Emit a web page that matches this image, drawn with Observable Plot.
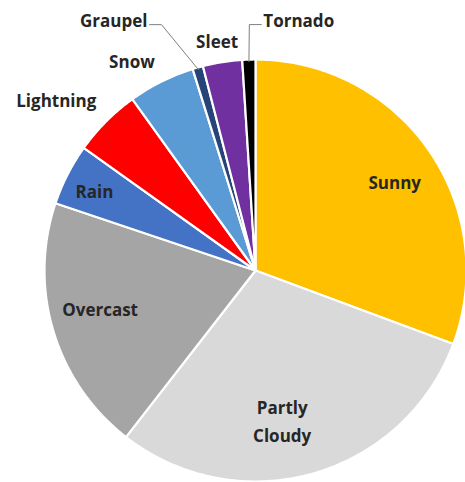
<!DOCTYPE html>
<html>
<head>
<meta charset="utf-8">
<script src="https://cdn.jsdelivr.net/npm/d3@7"></script>
<script src="https://cdn.jsdelivr.net/npm/@observablehq/plot@0.6"></script>
<style>
  html, body { margin: 0; padding: 0; background: #fff; }
  #chart svg { display: block; }
</style>
</head>
<body>
<div id="chart"></div>
<script>
// Share of days by weather type (percent), clockwise from 12 o'clock
const names  = ["Sunny", "Partly Cloudy", "Overcast", "Rain", "Lightning", "Snow", "Graupel", "Sleet", "Tornado"];
const shares = [30.6, 29.8, 19.6, 4.7, 5.2, 5.1, 0.8, 3.0, 1.0];
const labels = ["Sunny", "Partly\nCloudy", "Overcast", "Rain", "Lightning", "Snow", "Graupel", "Sleet", "Tornado"];
const colors = ["#FFC000", "#D9D9D9", "#A5A5A5", "#4472C4", "#FF0000", "#5B9BD5", "#264478", "#7030A0", "#000000"];

// Label placement: distance from centre (in radii) and a small turn (degrees) off the slice's mid-angle
const labelRadius = [0.78, 0.73, 0.76, 0.85, 1.24, 1.15, 1.29, 1.10, 1.185];
const labelTurn   = [2.6, 5.9, 2.5, -1, -4.5, -4.1, -7.5, -0.5, 3.6];
const labelAnchor = ["middle", "middle", "middle", "middle", "middle", "middle", "end", "middle", "start"];
const hasLeader   = [false, false, false, false, false, false, true, false, true];

const rad = Math.PI / 180;
const arcs = d3.pie().sort(null).startAngle(0).endAngle(2 * Math.PI)(shares);

// Polygon outline for each slice: centre -> arc -> centre
const slicePts = [];
arcs.forEach((a, i) => {
  const steps = Math.max(2, Math.ceil((a.endAngle - a.startAngle) / (0.5 * rad)));
  slicePts.push({name: names[i], x: 0, y: 0});
  for (let k = 0; k <= steps; k++) {
    const t = a.startAngle + (a.endAngle - a.startAngle) * k / steps;
    slicePts.push({name: names[i], x: Math.sin(t), y: -Math.cos(t)});
  }
  slicePts.push({name: names[i], x: 0, y: 0});
});

// Label anchor points
const labelRows = arcs.map((a, i) => {
  const mid = (a.startAngle + a.endAngle) / 2 + labelTurn[i] * rad;
  return {
    name: names[i], text: labels[i], anchor: labelAnchor[i],
    mid: (a.startAngle + a.endAngle) / 2,
    x: labelRadius[i] * Math.sin(mid),
    y: -labelRadius[i] * Math.cos(mid),
    leader: hasLeader[i]
  };
});

// Leader lines: slice edge -> elbow -> beside the label
const px = 1 / 211;
const leaderPts = [];
labelRows.filter(d => d.leader).forEach(d => {
  const side = d.anchor === "end" ? 1 : -1;
  const ex = d.x + side * 2 * px, ey = d.y + 4 * px;
  leaderPts.push({name: d.name, x: Math.sin(d.mid) * 0.99, y: -Math.cos(d.mid) * 0.99});
  leaderPts.push({name: d.name, x: ex + side * 12 * px, y: ey});
  leaderPts.push({name: d.name, x: ex, y: ey});
});

const textStyle = {
  x: "x", y: "y", text: "text", dy: -3,
  fontSize: 17, fontWeight: "bold", fontFamily: "'Open Sans', Lato, sans-serif",
  fill: "#262626", lineHeight: 1.65
};

const chart = Plot.plot({
  width: 465,
  height: 482,
  margin: 0,
  style: {background: "#fff"},
  x: {domain: [-1, 1], range: [44, 466], axis: null},
  y: {domain: [-1, 1], range: [59, 481], axis: null},
  color: {domain: names, range: colors},
  marks: [
    Plot.line(slicePts, {x: "x", y: "y", z: "name", fill: "name", stroke: "white", strokeWidth: 2.2, strokeLinejoin: "round", curve: "linear"}),
    Plot.line(leaderPts, {x: "x", y: "y", z: "name", stroke: "#7f7f7f", strokeWidth: 1}),
    Plot.text(labelRows.filter(d => d.anchor === "middle"), {...textStyle, textAnchor: "middle"}),
    Plot.text(labelRows.filter(d => d.anchor === "end"), {...textStyle, textAnchor: "end"}),
    Plot.text(labelRows.filter(d => d.anchor === "start"), {...textStyle, textAnchor: "start"})
  ]
});
document.getElementById("chart").appendChild(chart);
</script>
</body>
</html>
